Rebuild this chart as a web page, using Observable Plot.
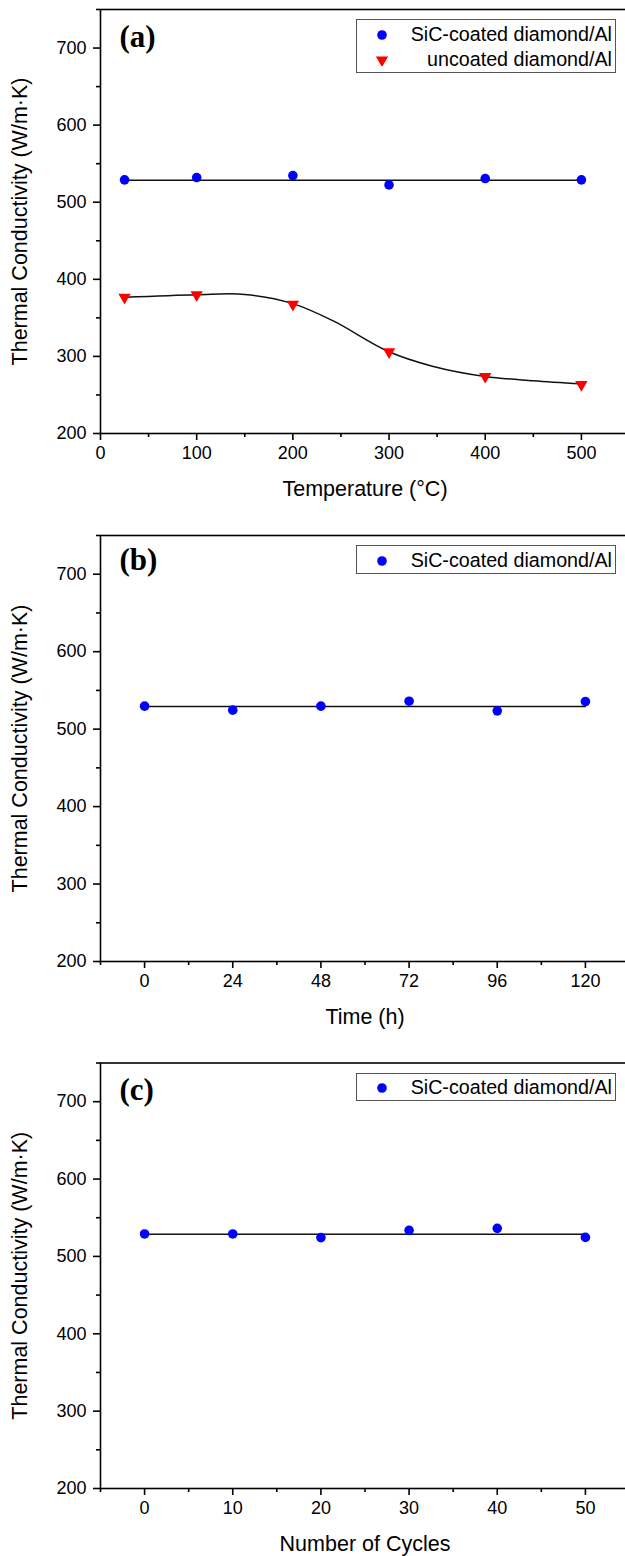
<!DOCTYPE html>
<html>
<head>
<meta charset="utf-8">
<script src="https://cdn.jsdelivr.net/npm/d3@7"></script>
<script src="https://cdn.jsdelivr.net/npm/@observablehq/plot@0.6"></script>
<style>
html, body { margin: 0; padding: 0; background: #fff; }
body { width: 625px; height: 1556px; overflow: hidden; font-family: "Liberation Sans", Arial, sans-serif; }
.panel { position: relative; width: 625px; overflow: hidden; }
.panel svg { max-width: none !important; display: block; }
.panel svg [aria-label$="tick label"] text, .panel svg [aria-label$="tick label"] { font-size: 18px; fill: #000; }
.legend { position: absolute; left: 356px; width: 260px; border: 1px solid #555; box-sizing: border-box; background: #fff; padding-top: 1.5px; }
.legend .row { position: relative; height: 25px; }
.legend .row svg { position: absolute; left: 19px; top: 7px; }
.legend .row span { position: absolute; right: 3px; top: 0; line-height: 25px; font-size: 19.7px; color: #000; white-space: nowrap; }
</style>
</head>
<body>
<div id="chart"></div>
<script>
// ---- Data ----
const yLabel = "Thermal Conductivity (W/m·K)";
const yMajor = [200, 300, 400, 500, 600, 700];
const yMinor = [250, 350, 450, 550, 650, 750];

// (a) Temperature
const tempX = [25, 100, 200, 300, 400, 500];
const sicTemp = [529, 532, 534.6, 522.5, 530.7, 529];
const uncoatedTemp = [376.6, 380, 367.5, 306, 274, 263.5];
const sicTempFitX = [25, 500];
const sicTempFitY = [528.5, 528.5];
const uncoatedFitX = [25, 100, 150, 200, 242, 300, 346, 400, 450, 500];
const uncoatedFitY = [376.6, 380, 380.4, 368.5, 346, 306, 287, 274, 268.5, 264.5];
const tempTicks = [0, 100, 200, 300, 400, 500];
const tempMinor = [50, 150, 250, 350, 450, 550];

// (b) Time
const timeX = [0, 24, 48, 72, 96, 120];
const sicTime = [529.7, 524.5, 529.7, 536.1, 523.6, 535.6];
const sicTimeFitX = [0, 120];
const sicTimeFitY = [529.1, 529.1];
const timeTicks = [0, 24, 48, 72, 96, 120];
const timeMinor = [-12, 12, 36, 60, 84, 108, 132];

// (c) Cycles
const cycleX = [0, 10, 20, 30, 40, 50];
const sicCycle = [529, 529, 524.3, 533.7, 536.3, 524.6];
const sicCycleFitX = [0, 50];
const sicCycleFitY = [528.5, 528.5];
const cycleTicks = [0, 10, 20, 30, 40, 50];
const cycleMinor = [-5, 5, 15, 25, 35, 45, 55];

const SIC = "SiC-coated diamond/Al";
const UNC = "uncoated diamond/Al";
const BLUE = "#0000ff", RED = "#ff0000";
const TRI_R = 4.6, DOT_R = 4.8;

const zip = (xs, ys) => xs.map((x, i) => ({x, y: ys[i]}));

const panels = [
  {
    tag: "(a)", tagDy: 28, height: 520, marginTop: 9, marginBottom: 87,
    xDomain: [0, 550], xTicks: tempTicks, xMinor: tempMinor, xLabel: "Temperature (°C)",
    fits: [zip(sicTempFitX, sicTempFitY), zip(uncoatedFitX, uncoatedFitY)],
    series: [
      {data: zip(tempX, sicTemp), color: BLUE, symbol: "circle"},
      {data: zip(tempX, uncoatedTemp), color: RED, symbol: "triangle"}
    ],
    legend: [{label: SIC, color: BLUE, symbol: "circle"}, {label: UNC, color: RED, symbol: "triangle"}]
  },
  {
    tag: "(b)", tagDy: 25, height: 520, marginTop: 15, marginBottom: 79,
    xDomain: [-12, 132], xTicks: timeTicks, xMinor: timeMinor, xLabel: "Time (h)",
    fits: [zip(sicTimeFitX, sicTimeFitY)],
    series: [{data: zip(timeX, sicTime), color: BLUE, symbol: "circle"}],
    legend: [{label: SIC, color: BLUE, symbol: "circle"}]
  },
  {
    tag: "(c)", tagDy: 27.5, height: 516, marginTop: 22.5, marginBottom: 68,
    xDomain: [-5, 55], xTicks: cycleTicks, xMinor: cycleMinor, xLabel: "Number of Cycles",
    fits: [zip(sicCycleFitX, sicCycleFitY)],
    series: [{data: zip(cycleX, sicCycle), color: BLUE, symbol: "circle"}],
    legend: [{label: SIC, color: BLUE, symbol: "circle"}]
  }
];

const root = document.getElementById("chart");

for (const p of panels) {
  const marks = [
    Plot.frame({stroke: "#000", strokeWidth: 1.6}),
    Plot.axisY({ticks: yMajor, tickSize: 7, tickPadding: 7, strokeWidth: 1.6, fontSize: 18, label: null}),
    Plot.axisY({ticks: yMinor, tickSize: 4, tickFormat: () => "", strokeWidth: 1.6, label: null}),
    Plot.axisX({ticks: p.xTicks, tickSize: 7, tickPadding: 6, strokeWidth: 1.6, fontSize: 18, label: null}),
    Plot.axisX({ticks: p.xMinor, tickSize: 4, tickFormat: () => "", strokeWidth: 1.6, label: null}),
    ...p.fits.map(f => Plot.line(f, {x: "x", y: "y", stroke: "#111", strokeWidth: 1.5, curve: "catmull-rom"})),
    ...p.series.map(s => s.symbol === "triangle"
      ? Plot.dot(s.data, {x: "x", y: "y", symbol: "triangle", rotate: 180, r: TRI_R, fill: s.color, stroke: "none"})
      : Plot.dot(s.data, {x: "x", y: "y", r: DOT_R, fill: s.color, stroke: "none"})),
    Plot.text([p.tag], {frameAnchor: "top-left", dx: 19, dy: p.tagDy, textAnchor: "start", lineAnchor: "middle",
      fontFamily: "Liberation Serif, Times New Roman, serif", fontWeight: "bold", fontSize: 31, fill: "#000"}),
    Plot.text([yLabel], {frameAnchor: "left", dx: -80, rotate: -90, textAnchor: "middle", lineAnchor: "middle", fontSize: 21.5, fill: "#000"}),
    Plot.text([p.xLabel], {frameAnchor: "bottom", dy: 56, textAnchor: "middle", lineAnchor: "middle", fontSize: 21.5, fill: "#000"})
  ];
  const svg = Plot.plot({
    width: 629,
    height: p.height,
    marginLeft: 100,
    marginRight: 0,
    marginTop: p.marginTop,
    marginBottom: p.marginBottom,
    x: {domain: p.xDomain},
    y: {domain: [200, 750]},
    style: {fontFamily: "Liberation Sans, Arial, sans-serif", fontSize: "18px", color: "#000", background: "#fff", maxWidth: "none", overflow: "visible"},
    marks
  });
  const div = document.createElement("div");
  div.className = "panel";
  div.style.height = p.height + "px";
  div.appendChild(svg);

  const leg = document.createElement("div");
  leg.className = "legend";
  leg.style.top = (p.marginTop + 10) + "px";
  leg.style.height = (3.5 + 25 * p.legend.length) + "px";
  for (const item of p.legend) {
    const row = document.createElement("div");
    row.className = "row";
    const ns = "http://www.w3.org/2000/svg";
    const ms = document.createElementNS(ns, "svg");
    ms.setAttribute("width", 12); ms.setAttribute("height", 12);
    const r = item.symbol === "triangle" ? TRI_R : DOT_R;
    const sym = d3.symbol(item.symbol === "triangle" ? d3.symbolTriangle : d3.symbolCircle, Math.PI * r * r)();
    const path = document.createElementNS(ns, "path");
    path.setAttribute("d", sym);
    path.setAttribute("fill", item.color);
    path.setAttribute("transform", "translate(6,6)" + (item.symbol === "triangle" ? " rotate(180)" : ""));
    ms.appendChild(path);
    row.appendChild(ms);
    const span = document.createElement("span");
    span.textContent = item.label;
    row.appendChild(span);
    leg.appendChild(row);
  }
  div.appendChild(leg);
  root.appendChild(div);
}
</script>
</body>
</html>
